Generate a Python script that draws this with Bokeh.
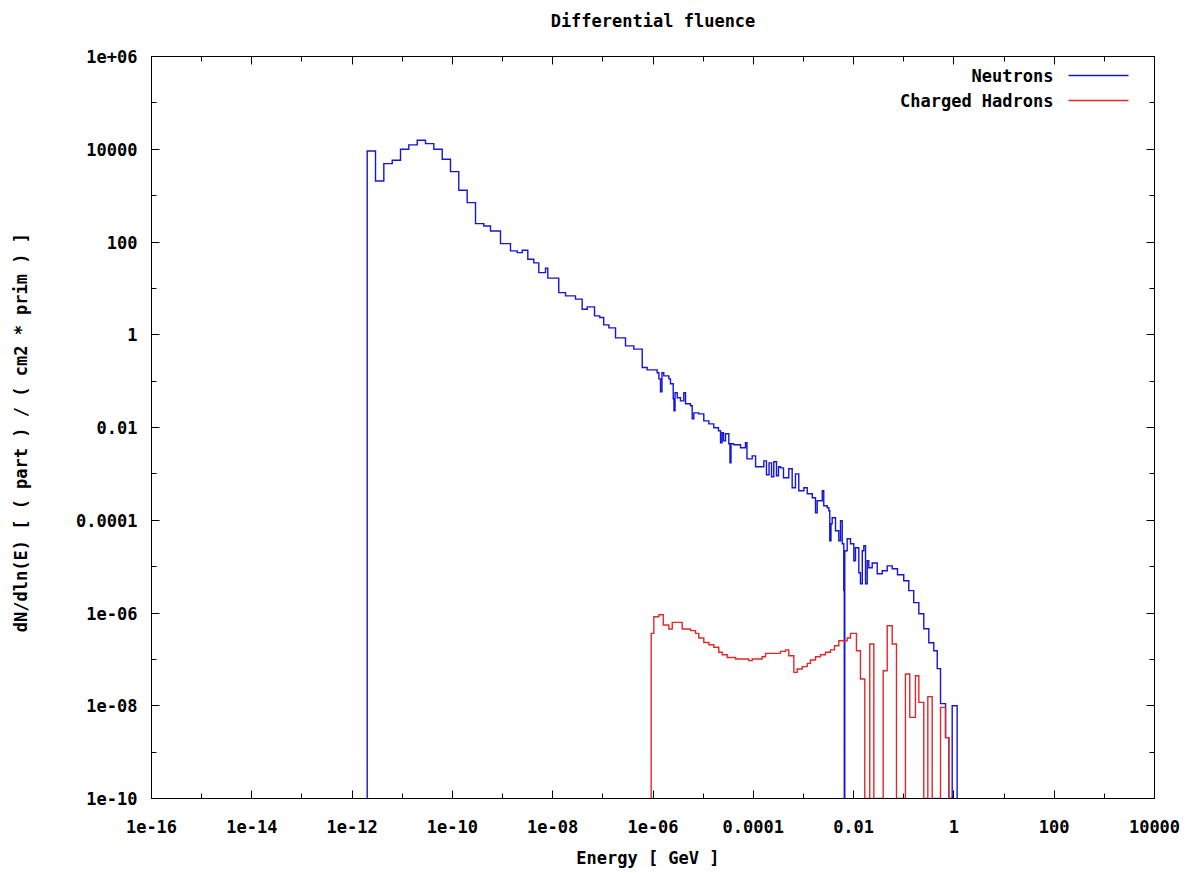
import numpy as np
from bokeh.plotting import figure
from bokeh.models import (Range1d, LogAxis, FixedTicker, CustomJSTickFormatter,
                          Label, BoxAnnotation)
from bokeh.embed import file_html
from bokeh.resources import INLINE

# ---------------- texts ----------------
title_text = "Differential fluence"
x_label = "Energy  [ GeV ]"
y_label = "dN/dln(E)  [ ( part ) / ( cm2 * prim ) ]"
series_names = ["Neutrons", "Charged Hadrons"]

# ---------------- ticks ----------------
x_major_ticks = [1e-16, 1e-14, 1e-12, 1e-10, 1e-08, 1e-06, 1e-04, 1e-02, 1e0, 1e2, 1e4]
x_tick_labels = ["1e-16", "1e-14", "1e-12", "1e-10", "1e-08", "1e-06", "0.0001", "0.01", "1", "100", "10000"]
x_minor_ticks = [1e-15, 1e-13, 1e-11, 1e-09, 1e-07, 1e-05, 1e-03, 1e-01, 1e1, 1e3]
y_major_ticks = [1e-10, 1e-08, 1e-06, 1e-04, 1e-02, 1e0, 1e2, 1e4, 1e6]
y_tick_labels = ["1e-10", "1e-08", "1e-06", "0.0001", "0.01", "1", "100", "10000", "1e+06"]
y_minor_ticks = [1e-09, 1e-07, 1e-05, 1e-03, 1e-01, 1e1, 1e3, 1e5]

# ---------------- data (bin edges in GeV, dN/dlnE per bin) ----------------
neutron_edges = [
    2.00e-12, 2.93e-12, 4.29e-12, 6.31e-12, 9.23e-12, 1.35e-11, 1.99e-11, 2.91e-11,
    4.26e-11, 6.27e-11, 9.16e-11, 1.34e-10, 1.97e-10, 2.89e-10, 4.23e-10, 5.75e-10,
    9.10e-10, 1.44e-09, 1.96e-09, 2.47e-09, 3.19e-09, 4.20e-09, 5.28e-09, 7.18e-09,
    7.98e-09, 1.32e-08, 1.80e-08, 2.85e-08, 3.87e-08, 4.88e-08, 6.82e-08, 8.69e-08,
    1.04e-07, 1.32e-07, 1.79e-07, 2.83e-07, 4.14e-07, 6.10e-07, 7.66e-07, 1.21e-06,
    1.31e-06, 1.41e-06, 1.51e-06, 1.64e-06, 2.07e-06, 2.23e-06, 2.53e-06, 2.62e-06,
    2.75e-06, 3.04e-06, 3.53e-06, 4.11e-06, 4.45e-06, 5.60e-06, 6.05e-06, 6.52e-06,
    8.18e-06, 1.03e-05, 1.30e-05, 1.63e-05, 2.02e-05, 2.22e-05, 2.38e-05, 2.55e-05,
    2.79e-05, 3.25e-05, 3.43e-05, 3.59e-05, 4.08e-05, 5.56e-05, 6.98e-05, 7.48e-05,
    9.51e-05, 1.11e-04, 1.62e-04, 1.83e-04, 2.06e-04, 2.31e-04, 2.56e-04, 2.90e-04,
    3.18e-04, 3.48e-04, 4.00e-04, 5.10e-04, 5.96e-04, 6.93e-04, 8.07e-04, 1.02e-03,
    1.19e-03, 1.50e-03, 1.74e-03, 1.88e-03, 2.37e-03, 2.54e-03, 2.97e-03, 3.21e-03,
    3.35e-03, 3.54e-03, 3.74e-03, 4.36e-03, 5.07e-03, 5.48e-03, 5.93e-03, 6.37e-03,
    6.52e-03, 6.67e-03, 7.45e-03, 8.67e-03, 1.01e-02, 1.09e-02, 1.27e-02, 1.37e-02,
    1.49e-02, 1.60e-02, 1.73e-02, 1.87e-02, 2.01e-02, 2.35e-02, 2.96e-02, 3.72e-02,
    4.68e-02, 5.89e-02, 7.50e-02, 1.00e-01, 1.26e-01, 1.58e-01, 2.00e-01, 2.51e-01,
    3.16e-01, 3.97e-01, 4.65e-01, 5.41e-01, 6.81e-01, 7.91e-01, 9.25e-01, 1.16e+00,
]
neutron_values = [
    9.18e3, 2.07e3, 4.90e3, 5.79e3, 1.00e4, 1.24e4, 1.56e4, 1.32e4,
    1.00e4, 6.08e3, 3.29e3, 1.31e3, 7.06e2, 2.49e2, 2.22e2, 1.73e2,
    92.4, 64.3, 59.1, 66.5, 42.6, 35.5, 21.9, 27.2,
    16.6, 8.11, 6.89, 5.85, 3.56, 3.99, 2.55, 2.35,
    1.63, 1.41, 0.857, 0.577, 0.490, 0.196, 0.175, 0.151,
    0.112, 0.0588, 0.151, 0.130, 0.112, 0.0875, 0.0416, 0.0229,
    0.0560, 0.0437, 0.0376, 0.0560, 0.0324, 0.0294, 0.0154, 0.0207,
    0.0197, 0.0139, 0.0120, 0.00986, 0.00849, 0.00468, 0.00769, 0.00516,
    0.00731, 0.00446, 0.00173, 0.00446, 0.00424, 0.00365, 0.00468, 0.00211,
    0.00245, 0.00142, 0.00191, 0.000957, 0.00173, 0.000865, 0.00182, 0.000910,
    0.00142, 0.00135, 0.000824, 0.00129, 0.000501, 0.00100, 0.000433, 0.000501,
    0.000372, 0.000305, 0.000145, 0.000263, 0.000433, 0.000205, 0.000186, 0.000160,
    3.61e-5, 8.41e-5, 1.13e-4, 5.94e-5, 3.61e-5, 9.75e-5, 3.12e-5, 3.03e-6,
    0.0, 2.20e-5, 3.99e-5, 3.12e-5, 1.34e-5, 2.55e-5, 7.39e-6, 4.28e-6,
    2.20e-5, 2.84e-5, 4.28e-6, 1.34e-5, 9.46e-6, 1.20e-5, 7.03e-6, 8.16e-6,
    1.04e-5, 9.02e-6, 6.68e-6, 4.97e-6, 3.03e-6, 1.67e-6, 9.66e-7, 4.59e-7,
    2.29e-7, 1.54e-7, 6.31e-8, 1.11e-8, 2.05e-9, 0.0, 1.00e-8,
]

hadron_edges = [
    9.20e-7, 1.04e-6, 1.31e-6, 1.60e-6, 2.07e-6, 2.42e-6, 3.82e-6, 5.60e-6,
    7.03e-6, 8.18e-6, 1.03e-5, 1.30e-5, 1.63e-5, 2.05e-5, 2.40e-5, 3.02e-5,
    4.42e-5, 8.13e-5, 9.51e-5, 1.50e-4, 1.75e-4, 3.48e-4, 4.39e-4, 5.10e-4,
    6.43e-4, 7.50e-4, 9.44e-4, 1.19e-3, 1.38e-3, 1.74e-3, 2.19e-3, 2.75e-3,
    3.46e-3, 4.16e-3, 5.07e-3, 7.45e-3, 8.67e-3, 1.14e-2, 1.37e-2, 1.67e-2,
    2.10e-2, 2.53e-2, 3.89e-2, 4.68e-2, 5.89e-2, 7.16e-2, 1.08e-1, 1.32e-1,
    1.71e-1, 2.00e-1, 2.51e-1, 3.02e-1, 3.69e-1, 5.41e-1, 6.81e-1, 7.91e-1,
]
hadron_values = [
    3.63e-7, 8.32e-7, 9.18e-7, 5.51e-7, 4.52e-7, 6.27e-7, 4.52e-7, 4.16e-7,
    3.63e-7, 2.89e-7, 2.32e-7, 2.07e-7, 1.82e-7, 1.42e-7, 1.26e-7, 1.10e-7,
    1.02e-7, 9.38e-8, 1.02e-7, 1.14e-7, 1.35e-7, 1.49e-7, 1.60e-7, 1.20e-7,
    5.25e-8, 6.21e-8, 6.97e-8, 8.20e-8, 9.70e-8, 1.14e-7, 1.26e-7, 1.42e-7,
    1.60e-7, 1.97e-7, 2.53e-7, 2.89e-7, 3.63e-7, 1.54e-7, 3.78e-8, 0.0,
    2.15e-7, 0.0, 5.70e-8, 5.32e-7, 2.15e-7, 0.0, 4.84e-8, 5.62e-9,
    4.45e-8, 1.18e-8, 0.0, 1.57e-8, 0.0, 9.24e-9, 2.05e-9,
]

X_MIN, X_MAX = 1e-16, 1e4
Y_MIN, Y_MAX = 1e-10, 1e6

FONT = "DejaVu Sans Mono"
FSIZE = "17px"
BLUE = "#1515d8"
RED = "#e02828"


def staircase(edges, values, floor):
    n = min(len(values), len(edges) - 1)
    xs = [edges[0]]
    ys = [floor]
    for i in range(n):
        v = values[i] if values[i] > 0 else floor
        xs += [edges[i], edges[i + 1]]
        ys += [v, v]
    xs.append(edges[n])
    ys.append(floor)
    return xs, ys


p = figure(width=1202, height=873, x_axis_type="log", y_axis_type="log",
           x_range=Range1d(X_MIN, X_MAX), y_range=Range1d(Y_MIN, Y_MAX),
           output_backend="svg", toolbar_location=None,
           min_border_left=151, min_border_right=48,
           min_border_top=56, min_border_bottom=75)
p.grid.visible = False
p.background_fill_color = "white"
p.border_fill_color = "white"
p.outline_line_color = "black"
p.outline_line_width = 1


def label_formatter(ticks, labels):
    exps = [int(round(np.log10(t))) for t in ticks]
    return CustomJSTickFormatter(args=dict(exps=exps, labels=labels), code="""
        const e = Math.round(Math.log10(tick));
        const i = exps.indexOf(e);
        return i >= 0 ? labels[i] : '';
    """)


def style_axis(ax, ticks, minor, labels=None, title=None):
    ax.ticker = FixedTicker(ticks=ticks, minor_ticks=minor)
    ax.axis_line_color = "black"
    ax.axis_line_width = 1
    ax.major_tick_line_color = "black"
    ax.minor_tick_line_color = "black"
    ax.major_tick_in = 8
    ax.major_tick_out = 0
    ax.minor_tick_in = 5
    ax.minor_tick_out = 0
    if labels is None:
        ax.formatter = CustomJSTickFormatter(code="return '';")
        ax.major_label_text_font_size = "1px"
        ax.major_label_standoff = 0
    else:
        ax.formatter = label_formatter(ticks, labels)
        ax.major_label_text_font = FONT
        ax.major_label_text_font_style = "bold"
        ax.major_label_text_font_size = FSIZE
        ax.major_label_text_color = "black"
    if title is not None:
        ax.axis_label = title
        ax.axis_label_text_font = FONT
        ax.axis_label_text_font_style = "bold"
        ax.axis_label_text_font_size = FSIZE
        ax.axis_label_text_color = "black"


xa = p.xaxis[0]
style_axis(xa, x_major_ticks, x_minor_ticks, x_tick_labels, x_label)
xa.major_label_standoff = 21
xa.axis_label_standoff = 12

ya = p.yaxis[0]
style_axis(ya, y_major_ticks, y_minor_ticks, y_tick_labels, y_label)
ya.major_label_standoff = 14
ya.axis_label_standoff = 42

# mirrored top axis; it also carries the chart title above the frame
top_axis = LogAxis()
style_axis(top_axis, x_major_ticks, x_minor_ticks, None, title_text)
top_axis.axis_label_standoff = 26
p.add_layout(top_axis, "above")

right_axis = LogAxis()
style_axis(right_axis, y_major_ticks, y_minor_ticks)
p.add_layout(right_axis, "right")

nx, ny = staircase(neutron_edges, neutron_values, Y_MIN)
hx, hy = staircase(hadron_edges, hadron_values, Y_MIN)
p.line(nx, ny, line_color=BLUE, line_width=1.4, line_join="miter")
p.line(hx, hy, line_color=RED, line_width=1.4, line_join="miter")

# key (text on the left, sample line on the right), frame-relative screen units
for i, (name, col) in enumerate(zip(series_names, [BLUE, RED])):
    yc = 723 - 25 * i
    p.add_layout(Label(x=902, y=yc, x_units="screen", y_units="screen", text=name,
                       text_align="right", text_baseline="middle",
                       text_font=FONT, text_font_style="bold", text_font_size=FSIZE,
                       text_color="black"))
    p.add_layout(BoxAnnotation(left=917, right=977, bottom=yc - 0.7, top=yc + 0.7,
                               left_units="screen", right_units="screen",
                               bottom_units="screen", top_units="screen",
                               fill_color=col, fill_alpha=1.0, line_color=None))

open("out.html", "w").write(file_html(p, INLINE))
